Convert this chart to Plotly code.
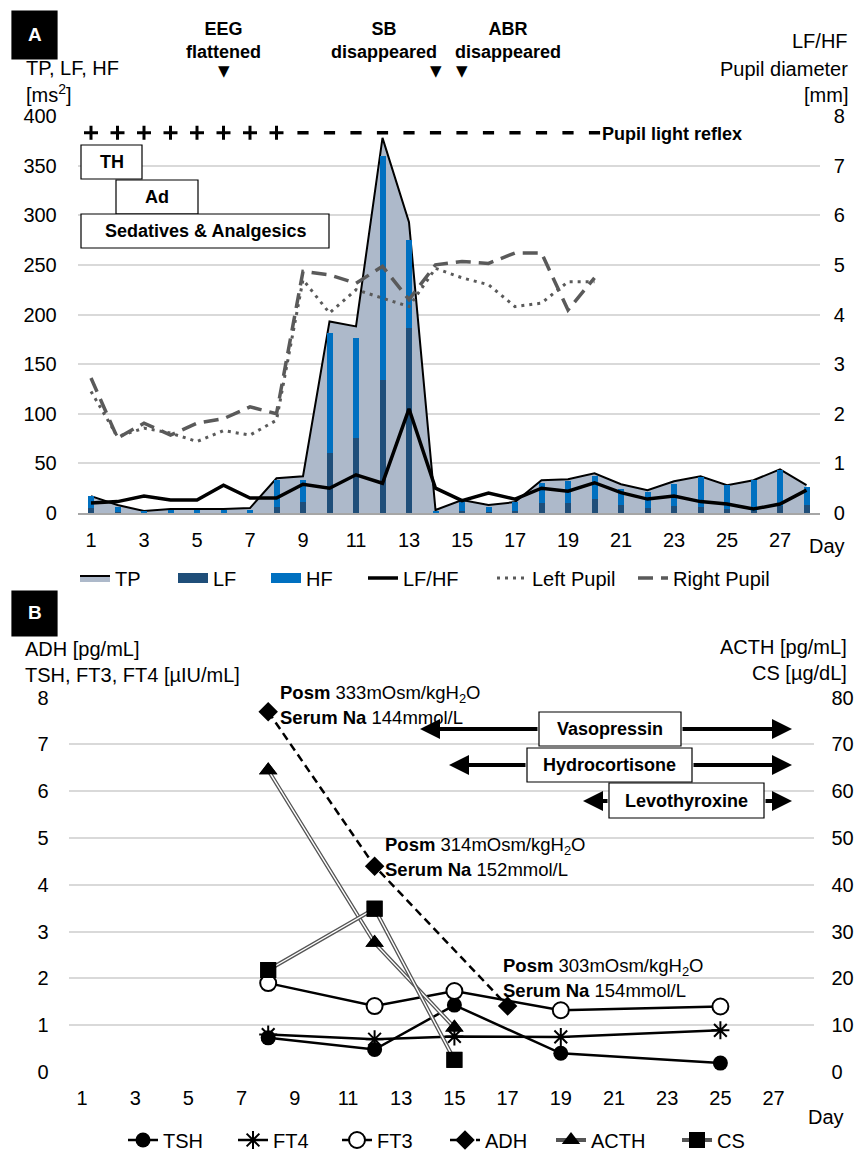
import plotly.graph_objects as go

W, H = 854, 1153
FONT = "Liberation Sans, Arial, sans-serif"

# ---------------- Panel A data ----------------
days = list(range(1, 29))
tp = [17, 8, 2, 4, 4, 4, 5, 35, 37, 193, 188, 378, 293, 3, 13, 8, 11, 33, 34, 40, 29, 23, 32, 37, 28, 33, 44, 28]
lf = [5, 1, 0.5, 0.5, 0.5, 0.5, 0.5, 6, 11, 60, 76, 134, 186, 0.5, 2, 1, 2, 10, 10, 14, 8, 5, 7, 6, 4, 2, 7, 8]
hf = [12, 5, 1, 2.5, 2.5, 2.5, 2.5, 27, 22, 121, 100, 226, 89, 1, 9, 5, 9, 20, 22, 23, 16, 16, 22, 30, 24, 31, 36, 18]
lf_hf = [0.2, 0.23, 0.34, 0.26, 0.26, 0.56, 0.3, 0.3, 0.58, 0.5, 0.77, 0.6, 2.1, 0.5,
         0.25, 0.4, 0.28, 0.5, 0.44, 0.61, 0.41, 0.28, 0.34, 0.23, 0.18, 0.08, 0.18, 0.46]
left_pupil = [2.45, 1.54, 1.71, 1.61, 1.44, 1.66, 1.57, 1.87, 4.7, 4.03, 4.5, 4.33, 4.16, 4.93,
              4.74, 4.6, 4.16, 4.23, 4.66, 4.66] + [None] * 8
right_pupil = [2.72, 1.51, 1.81, 1.57, 1.81, 1.9, 2.14, 2.0, 4.87, 4.8, 4.63, 4.97, 4.3, 5.0,
               5.07, 5.03, 5.24, 5.24, 4.09, 4.74] + [None] * 8
light_reflex = ["+"] * 8 + ["-"] * 12
reflex_days = list(range(1, 21))
a_ticks = list(range(1, 28, 2))
events = [("EEG<br>flattened", 6), ("SB<br>disappeared", 14), ("ABR<br>disappeared", 15)]
treatments_a = ["TH", "Ad", "Sedatives & Analgesics"]

# ---------------- Panel B data ----------------
thy_days = [8, 12, 15, 19, 25]
tsh = [0.73, 0.48, 1.43, 0.4, 0.19]
ft4 = [0.8, 0.7, 0.76, 0.75, 0.89]
ft3 = [1.9, 1.41, 1.73, 1.32, 1.4]
adh_days = [8, 12, 17]
adh = [7.7, 4.4, 1.41]
acth_days = [8, 12, 15]
acth = [64.5, 27.6, 9.5]
cs = [21.8, 34.9, 2.6]
posm = ["333", "314", "303"]
serum_na = ["144", "152", "154"]
drugs = ["Vasopressin", "Hydrocortisone", "Levothyroxine"]


def X(px):
    return px / W


def Y(py):
    return 1 - py / H


fig = go.Figure()

# legend slots: (legend id, text start x px, y px)
leg_a = {"TP": ("legend", 120, 578), "LF": ("legend2", 218, 578), "HF": ("legend3", 311, 578),
         "LF/HF": ("legend4", 408, 578), "Left Pupil": ("legend5", 537, 578),
         "Right Pupil": ("legend6", 678, 578)}
leg_b = {"TSH": ("legend7", 168, 1140), "FT4": ("legend8", 278, 1140), "FT3": ("legend9", 382, 1140),
         "ADH": ("legend10", 490, 1140), "ACTH": ("legend11", 596, 1140), "CS": ("legend12", 722, 1140)}

# TP area (bottom layer)
fig.add_trace(go.Scatter(x=days, y=tp, mode="lines", fill="tozeroy",
                         fillcolor="#ADB9CA", line=dict(color="black", width=2),
                         name="TP", xaxis="x", yaxis="y", legend=leg_a["TP"][0]))
# reflex symbols
for sym in ["+", "-"]:
    xs = [d for d, s in zip(reflex_days, light_reflex) if s == sym]
    fig.add_trace(go.Scatter(
        x=xs, y=[383] * len(xs), mode="markers", showlegend=False,
        marker=dict(symbol="cross-thin" if sym == "+" else "line-ew",
                    size=10 if sym == "+" else 8,
                    line=dict(width=3 if sym == "+" else 3.5, color="black"),
                    color="black"),
        xaxis="x", yaxis="y"))

# bars
fig.add_trace(go.Bar(x=days, y=lf, width=0.24, marker=dict(color="#1F4E79", line=dict(width=0)),
                     name="LF", xaxis="x", yaxis="y2", showlegend=False))
fig.add_trace(go.Bar(x=days, y=hf, width=0.24, marker=dict(color="#0070C0", line=dict(width=0)),
                     name="HF", xaxis="x", yaxis="y2", showlegend=False))
# legend stand-ins for the bars (wide colour swatches)
for nm, col in [("LF", "#1F4E79"), ("HF", "#0070C0")]:
    fig.add_trace(go.Scatter(x=[None], y=[None], mode="lines", name=nm,
                             line=dict(color=col, width=11), xaxis="x", yaxis="y2",
                             legend=leg_a[nm][0]))

# right-axis lines
fig.add_trace(go.Scatter(x=days, y=lf_hf, mode="lines", line=dict(color="black", width=3.5),
                         name="LF/HF", xaxis="x", yaxis="y3", legend=leg_a["LF/HF"][0]))
fig.add_trace(go.Scatter(x=days, y=left_pupil, mode="lines",
                         line=dict(color="#5A5A5A", width=3, dash="3px,5px"),
                         name="Left Pupil", xaxis="x", yaxis="y3", legend=leg_a["Left Pupil"][0]))
fig.add_trace(go.Scatter(x=days, y=right_pupil, mode="lines",
                         line=dict(color="#5A5A5A", width=3.5, dash="15px,8px"),
                         name="Right Pupil", xaxis="x", yaxis="y3", legend=leg_a["Right Pupil"][0]))

# ---------------- Panel B traces ----------------
fig.add_trace(go.Scatter(x=thy_days, y=tsh, mode="lines+markers", name="TSH",
                         line=dict(color="black", width=2.5),
                         marker=dict(symbol="circle", size=15, color="black"),
                         xaxis="x2", yaxis="y4", legend=leg_b["TSH"][0]))
fig.add_trace(go.Scatter(x=thy_days, y=ft4, mode="lines+markers", name="FT4",
                         line=dict(color="black", width=2.5),
                         marker=dict(symbol="asterisk-open", size=15, color="black",
                                     line=dict(width=2, color="black")),
                         xaxis="x2", yaxis="y4", legend=leg_b["FT4"][0]))
fig.add_trace(go.Scatter(x=thy_days, y=ft3, mode="lines+markers", name="FT3",
                         line=dict(color="black", width=2.5),
                         marker=dict(symbol="circle", size=16, color="white",
                                     line=dict(width=2, color="black")),
                         xaxis="x2", yaxis="y4", legend=leg_b["FT3"][0]))
fig.add_trace(go.Scatter(x=adh_days, y=adh, mode="lines+markers", name="ADH",
                         line=dict(color="black", width=2.5, dash="8px,5px"),
                         marker=dict(symbol="diamond", size=15, color="black"),
                         xaxis="x2", yaxis="y4", legend=leg_b["ADH"][0]))

for nm, vals, sym, sz in [("ACTH", acth, "triangle-up", 16), ("CS", cs, "square", 16)]:
    fig.add_trace(go.Scatter(x=acth_days, y=vals, mode="lines+markers", name=nm,
                             line=dict(color="#555555", width=4),
                             marker=dict(symbol=sym, size=sz, color="black"),
                             xaxis="x2", yaxis="y5", legend=leg_b[nm][0]))
    fig.add_trace(go.Scatter(x=acth_days, y=vals, mode="lines", showlegend=False,
                             line=dict(color="white", width=1.4),
                             xaxis="x2", yaxis="y5"))
    fig.add_trace(go.Scatter(x=acth_days, y=vals, mode="markers", showlegend=False,
                             marker=dict(symbol=sym, size=sz, color="black"),
                             xaxis="x2", yaxis="y5"))

tickfont = dict(family=FONT, size=20, color="black")
grid = "#D9D9D9"

legends = {}
for nm, (lid, tx, ty) in list(leg_a.items()) + list(leg_b.items()):
    legends[lid] = dict(orientation="h", x=X(tx - 45), xanchor="left", y=Y(ty), yanchor="middle",
                        font=dict(family=FONT, size=20, color="black"), itemwidth=30,
                        bgcolor="rgba(0,0,0,0)", borderwidth=0)

fig.update_layout(
    width=W, height=H, margin=dict(l=0, r=0, t=0, b=0, autoexpand=False),
    paper_bgcolor="white", plot_bgcolor="white",
    font=dict(family=FONT, color="black"),
    barmode="stack", bargap=0,
    xaxis=dict(domain=[77.75 / W, 819.75 / W], range=[0.5, 28.5], tickvals=a_ticks,
               showgrid=False, zeroline=False, showline=True, linecolor="#A6A6A6", linewidth=1.5,
               tickfont=tickfont, ticks="", ticklabelstandoff=8, anchor="y", automargin=False),
    yaxis=dict(domain=[Y(513), Y(116)], range=[0, 400], dtick=50, showgrid=True,
               gridcolor=grid, gridwidth=1.5, zeroline=False, tickfont=tickfont,
               ticks="", ticklabelstandoff=20, anchor="x", automargin=False),
    yaxis2=dict(overlaying="y", range=[0, 400], visible=False, showgrid=False, automargin=False),
    yaxis3=dict(overlaying="y", side="right", range=[0, 8], dtick=1, showgrid=False,
                zeroline=False, tickfont=tickfont, ticks="", ticklabelstandoff=13, anchor="x",
                automargin=False),
    xaxis2=dict(domain=[68.7 / W, 813.5 / W], range=[0.5, 28.5], tickvals=a_ticks,
                showgrid=False, zeroline=False, showline=False,
                tickfont=tickfont, ticks="", ticklabelstandoff=12, anchor="y4", automargin=False),
    yaxis4=dict(domain=[Y(1072), Y(697.7)], range=[0, 8], dtick=1, showgrid=True,
                gridcolor=grid, gridwidth=1.5, zeroline=False, tickfont=tickfont,
                ticks="", ticklabelstandoff=19, anchor="x2", automargin=False),
    yaxis5=dict(overlaying="y4", side="right", range=[0, 80], dtick=10, showgrid=False,
                zeroline=False, tickfont=tickfont, ticks="", ticklabelstandoff=17, anchor="x2",
                automargin=False),
    showlegend=True,
    **legends,
)


def text(x, y, t, size=20, bold=False, anchor="left", color="black"):
    fig.add_annotation(x=X(x), y=Y(y), xref="paper", yref="paper", text=t, showarrow=False,
                       xanchor=anchor, yanchor="middle", align=anchor if anchor != "center" else "center",
                       font=dict(family=FONT, size=size, color=color,
                                 weight="bold" if bold else "normal"))


def box(x0, y0, x1, y1, fill="white", lw=1.2):
    fig.add_shape(type="rect", xref="paper", yref="paper", x0=X(x0), x1=X(x1), y0=Y(y1), y1=Y(y0),
                  fillcolor=fill, line=dict(color="black" if fill == "white" else fill, width=lw),
                  layer="above")


# ---- Panel A decorations ----
box(12, 11, 57, 59, fill="black")
text(34.5, 35, "A", size=19, bold=True, anchor="center", color="white")
text(24, 68, "TP, LF, HF", 20)
text(24, 94, "[ms<sup>2</sup>]", 20)
text(850, 41, "LF/HF", 20, anchor="right")
text(850, 69, "Pupil diameter", 20, anchor="right")
text(850, 95, "[mm]", 20, anchor="right")
text(807, 546, "Day", 20)

text(223, 40, events[0][0], 18, bold=True, anchor="center")
text(384, 40, events[1][0], 18, bold=True, anchor="center")
text(508, 40, events[2][0], 18, bold=True, anchor="center")
for _, d in events:
    fig.add_annotation(x=d, y=Y(71), xref="x", yref="paper", text="▼", showarrow=False,
                       xanchor="center", yanchor="middle",
                       font=dict(family="DejaVu Sans", size=15, color="black"))
text(600, 134, "Pupil light reflex", 18, bold=True)

box(81, 145, 142, 179)
box(116, 180, 198, 214)
box(81, 214, 329, 248)
text(111.5, 162, treatments_a[0], 18, bold=True, anchor="center")
text(157, 197, treatments_a[1], 18, bold=True, anchor="center")
text(205, 231, treatments_a[2], 18, bold=True, anchor="center")

# ---- Panel B decorations ----
box(12, 591, 57, 636, fill="black")
text(34.5, 612, "B", size=19, bold=True, anchor="center", color="white")
text(23, 649, "ADH [pg/mL]", 20)
text(23, 675, "TSH, FT3, FT4 [µIU/mL]", 20)
text(849, 647, "ACTH [pg/mL]", 20, anchor="right")
text(849, 673, "CS [µg/dL]", 20, anchor="right")
text(806, 1117, "Day", 20)

for (px, py), po, na in zip([(278, 694), (383, 846), (501, 967)], posm, serum_na):
    text(px, py, f"<b>Posm</b> {po}mOsm/kgH<sub>2</sub>O", 18.5)
    text(px, py + 23, f"<b>Serum Na</b> {na}mmol/L", 18.5)

drug_geo = [  # left tip, box x0, box x1, right tip, y, box y0, box y1
    (420, 539, 681, 792, 729, 712, 746),
    (449, 527, 692, 792, 765, 748, 782),
    (583, 609, 764, 792, 801, 783, 818),
]
for name, (lt, bx0, bx1, rt, yy, by0, by1) in zip(drugs, drug_geo):
    for tip, tail in [(lt, bx0), (rt, bx1)]:
        fig.add_annotation(x=X(tip), y=Y(yy), xref="paper", yref="paper", text="",
                           showarrow=True, ax=tail - tip, ay=0, axref="pixel", ayref="pixel",
                           arrowhead=2, arrowsize=1.0, arrowwidth=4, arrowcolor="black")
    box(bx0, by0, bx1, by1)
    text((bx0 + bx1) / 2, (by0 + by1) / 2, name, 18, bold=True, anchor="center")

fig.write_html("out.html", config={"displayModeBar": False},
               post_script="document.body.style.margin='0px';document.body.style.padding='0px';")
